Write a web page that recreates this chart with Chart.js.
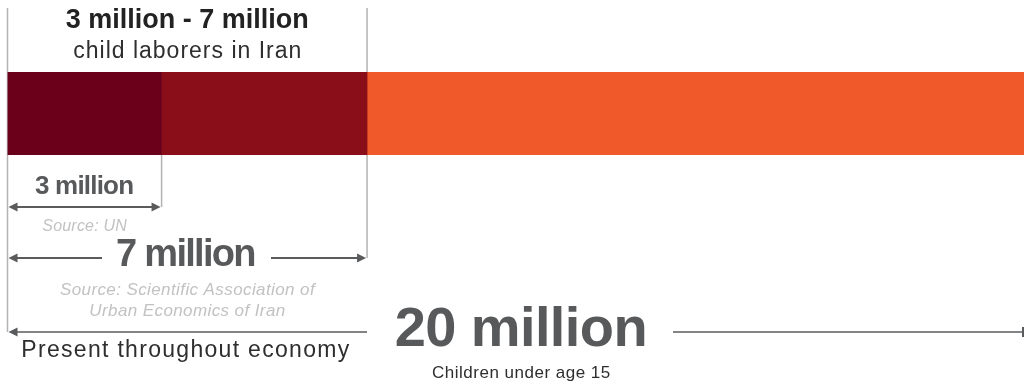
<!DOCTYPE html>
<html>
<head>
<meta charset="utf-8">
<script src="https://cdn.jsdelivr.net/npm/chart.js@4/dist/chart.umd.min.js"></script>
<style>
  html, body { margin: 0; padding: 0; background: #fff; }
  #wrap { width: 1024px; height: 382px; position: relative; }
</style>
</head>
<body>
<div id="wrap"><canvas id="laborChart"></canvas></div>
<script>
// values in millions of children
const categories = ['Children in Iran'];
const lowEstimate = [3];          // Source: UN
const extraHighEstimate = [4];    // 3 -> 7 million, Scientific Association
const restOfChildren = [13];      // 7 -> 20 million
const estimateLow = 3;
const estimateHigh = 7;
const totalChildren = 20;

const palette = {
  dark: '#6b001b',
  mid: '#890e1a',
  orange: '#f05a2b',
  guide: '#b3b3b3',
  arrow: '#5a5b5d',
  label: '#58595b',
  text: '#2e2e2e',
  source: '#c2c2c2',
};

const FONT = '"Liberation Sans", Arial, Helvetica, sans-serif';

function drawArrowHead(ctx, x, y, dir) {
  ctx.beginPath();
  ctx.moveTo(x, y);
  ctx.lineTo(x - dir * 9, y - 4.5);
  ctx.lineTo(x - dir * 9, y + 4.5);
  ctx.closePath();
  ctx.fill();
}

function hLine(ctx, x1, x2, y) {
  ctx.beginPath();
  ctx.moveTo(x1, y);
  ctx.lineTo(x2, y);
  ctx.stroke();
}

function vLine(ctx, x, y1, y2) {
  ctx.beginPath();
  ctx.moveTo(x, y1);
  ctx.lineTo(x, y2);
  ctx.stroke();
}

function text(ctx, str, x, y, font, color, spacing) {
  ctx.font = font;
  ctx.fillStyle = color;
  ctx.letterSpacing = (spacing || 0) + 'px';
  ctx.textAlign = 'center';
  ctx.textBaseline = 'alphabetic';
  // letterSpacing adds a trailing gap, so nudge to keep it centred
  ctx.fillText(str, x + (spacing || 0) / 2, y);
  ctx.letterSpacing = '0px';
}

const guidesPlugin = {
  id: 'guides',
  beforeDatasetsDraw(chart) {
    const { ctx } = chart;
    const xs = chart.scales.x;
    const x0 = xs.getPixelForValue(0);
    const xLow = xs.getPixelForValue(estimateLow);
    const xHigh = xs.getPixelForValue(estimateHigh);
    ctx.save();
    ctx.strokeStyle = palette.guide;
    ctx.lineWidth = 1.5;
    vLine(ctx, x0, 8, 332);
    vLine(ctx, xHigh, 8, 258);
    vLine(ctx, xLow, 155, 207);
    ctx.restore();
  },
  afterDraw(chart) {
    const { ctx } = chart;
    const xs = chart.scales.x;
    const x0 = xs.getPixelForValue(0);
    const xLow = xs.getPixelForValue(estimateLow);
    const xHigh = xs.getPixelForValue(estimateHigh);
    const xTotalMid = xs.getPixelForValue(totalChildren / 2);
    const xRight = chart.chartArea.right - 1;
    ctx.save();

    // heading
    text(ctx, '3 million - 7 million', (x0 + xHigh) / 2, 28, 'bold 27px ' + FONT, '#222', 0);
    text(ctx, 'child laborers in Iran', (x0 + xHigh) / 2, 58, '23px ' + FONT, palette.text, 1);

    ctx.strokeStyle = palette.arrow;
    ctx.fillStyle = palette.arrow;
    ctx.lineWidth = 1.8;

    // 3 million
    hLine(ctx, x0 + 4, xLow - 4, 207);
    drawArrowHead(ctx, x0 + 1, 207, -1);
    drawArrowHead(ctx, xLow - 1, 207, 1);
    text(ctx, '3 million', (x0 + xLow) / 2, 194, 'bold 26px ' + FONT, palette.label, -0.8);
    text(ctx, 'Source: UN', (x0 + xLow) / 2, 231, 'italic 16px ' + FONT, palette.source, 0.2);

    // 7 million
    ctx.strokeStyle = palette.arrow;
    ctx.fillStyle = palette.arrow;
    hLine(ctx, x0 + 4, 102, 258);
    hLine(ctx, 271, xHigh - 4, 258);
    drawArrowHead(ctx, x0 + 1, 258, -1);
    drawArrowHead(ctx, xHigh - 1, 258, 1);
    text(ctx, '7 million', (x0 + xHigh) / 2 - 1, 266, 'bold 38px ' + FONT, palette.label, -1.7);
    text(ctx, 'Source: Scientific Association of', (x0 + xHigh) / 2, 295, 'italic 17px ' + FONT, palette.source, 0.4);
    text(ctx, 'Urban Economics of Iran', (x0 + xHigh) / 2, 316, 'italic 17px ' + FONT, palette.source, 0.4);

    // 20 million
    ctx.strokeStyle = palette.arrow;
    ctx.fillStyle = palette.arrow;
    ctx.lineWidth = 1.5;
    hLine(ctx, x0 + 4, xHigh, 332);
    hLine(ctx, 673, xRight, 332);
    drawArrowHead(ctx, x0 + 1, 332, -1);
    ctx.lineWidth = 2;
    vLine(ctx, xRight, 327, 337);
    text(ctx, '20 million', xTotalMid, 346, 'bold 56px ' + FONT, palette.label, -0.6);
    text(ctx, 'Children under age 15', xTotalMid, 378, '17px ' + FONT, palette.text, 0.5);
    text(ctx, 'Present throughout economy', (x0 + xHigh) / 2 - 2, 357, '23px ' + FONT, palette.text, 1.3);

    ctx.restore();
  },
};

const ctx = document.getElementById('laborChart').getContext('2d');
new Chart(ctx, {
  type: 'bar',
  data: {
    labels: categories,
    datasets: [
      { label: 'Child laborers (UN)', data: lowEstimate, backgroundColor: palette.dark },
      { label: 'Child laborers (up to 7 million)', data: extraHighEstimate, backgroundColor: palette.mid },
      { label: 'Other children under 15', data: restOfChildren, backgroundColor: palette.orange },
    ],
  },
  options: {
    indexAxis: 'y',
    responsive: true,
    maintainAspectRatio: false,
    animation: false,
    datasets: {
      bar: {
        barPercentage: 1,
        categoryPercentage: 1,
        borderWidth: 0,
      },
    },
    layout: {
      padding: { left: 7.5, right: 0, top: 72, bottom: 227 },
    },
    plugins: {
      legend: { display: false },
      tooltip: { enabled: false },
    },
    scales: {
      x: {
        stacked: true,
        min: 0,
        max: 19.79,
        display: false,
      },
      y: {
        stacked: true,
        display: false,
      },
    },
  },
  plugins: [guidesPlugin],
});
</script>
</body>
</html>
